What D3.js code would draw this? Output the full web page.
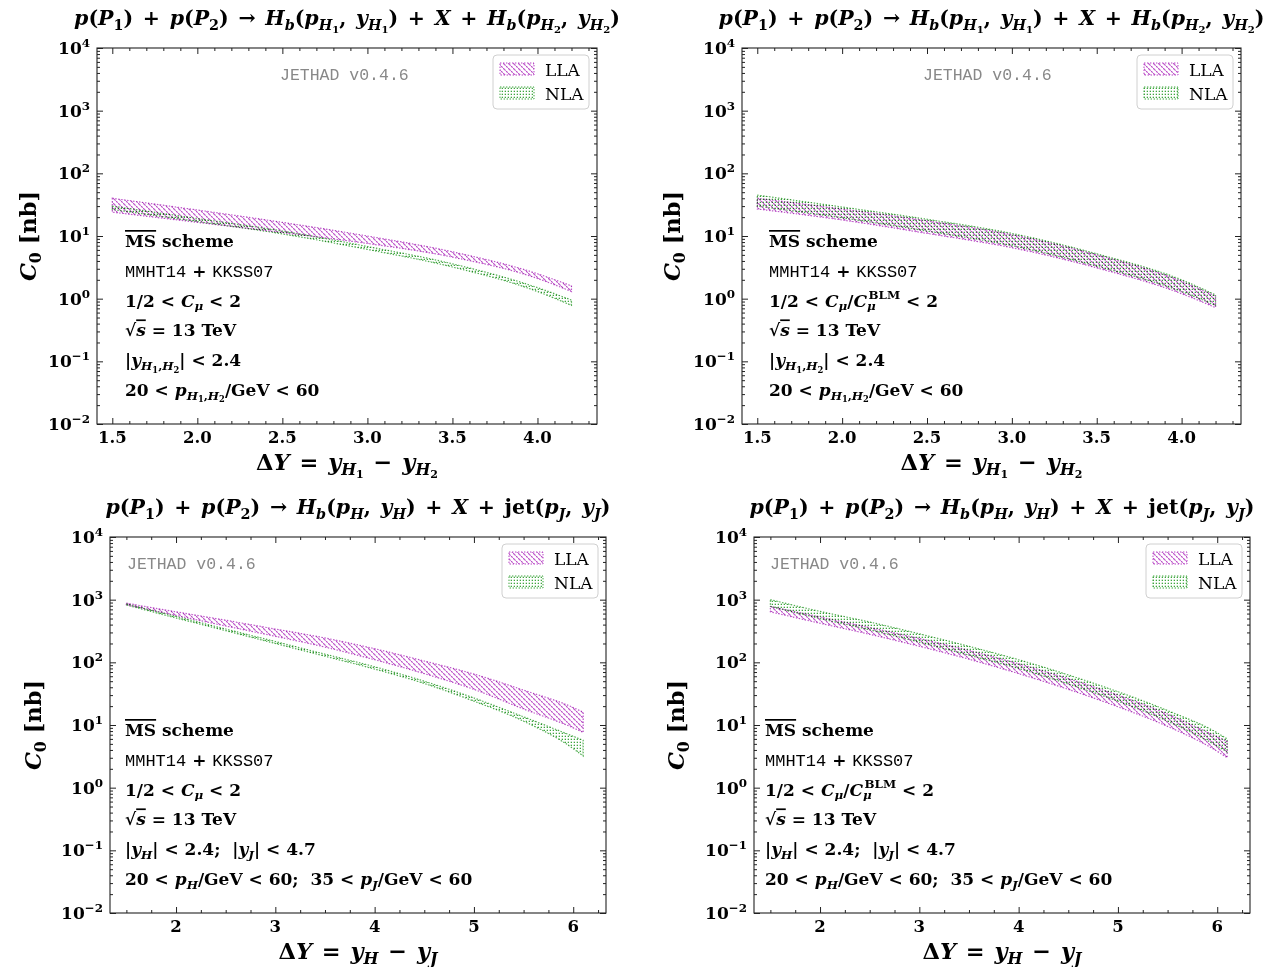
<!DOCTYPE html>
<html>
<head>
<meta charset="utf-8">
<script src="https://cdn.jsdelivr.net/npm/d3@7"></script>
<style>
  html, body { margin: 0; padding: 0; background: #fff; }
  svg { display: block; }
  text { white-space: pre; }
</style>
</head>
<body>
<svg id="fig" width="1274" height="967"></svg>
<script>
// ---- rapidity-interval grids ----
const dyTop = [1.5, 2.0, 2.5, 3.0, 3.5, 4.0, 4.2];
const dyBottom = [1.5, 2.0, 2.5, 3.0, 3.5, 4.0, 4.5, 5.0, 5.5, 6.0, 6.1];

// ---- H_b + H_b, natural scales (nb) ----
const hhLlaUp = [40, 26, 16.5, 10, 5.6, 2.5, 1.6];
const hhLlaLo = [24, 16.5, 11.3, 7.6, 4.6, 2.1, 1.3];
const hhNlaUp = [30, 19, 12, 6.8, 3.6, 1.5, 0.95];
const hhNlaLo = [26.5, 17, 10.8, 6.1, 3.2, 1.3, 0.78];

// ---- H_b + H_b, BLM scales (nb) ----
const hhBlmLlaUp = [40, 27, 17.5, 10.5, 5.0, 1.9, 1.1];
const hhBlmLlaLo = [27, 18, 11, 6.5, 3.1, 1.2, 0.72];
const hhBlmNlaUp = [45, 29, 18.5, 11, 5.2, 2.0, 1.15];
const hhBlmNlaLo = [30, 19.5, 12, 7, 3.3, 1.3, 0.78];

// ---- H_b + jet, natural scales (nb) ----
const hjLlaUp = [880, 640, 470, 340, 245, 165, 105, 65, 36, 19, 16];
const hjLlaLo = [830, 560, 380, 260, 175, 110, 66, 37, 18, 9, 7.6];
const hjNlaUp = [860, 540, 340, 215, 135, 85, 50, 27, 13.5, 6.6, 5.7];
const hjNlaLo = [820, 510, 320, 200, 125, 78, 46, 24, 11.5, 4.2, 3.2];

// ---- H_b + jet, BLM scales (nb) ----
const hjBlmLlaUp = [780, 530, 360, 240, 155, 95, 55, 30, 15, 6.5, 5.5];
const hjBlmLlaLo = [640, 420, 280, 180, 112, 66, 37, 19.5, 9.5, 3.8, 3.0];
const hjBlmNlaUp = [1000, 650, 440, 285, 180, 110, 63, 34, 17, 7.5, 6.0];
const hjBlmNlaLo = [780, 500, 330, 210, 130, 80, 45, 24, 11.5, 4.6, 3.7];

// ---- tick labels ----
const yTickExponents = [-2, -1, 0, 1, 2, 3, 4];
const xTicksTop = [1.5, 2.0, 2.5, 3.0, 3.5, 4.0];
const xTicksBottom = [2, 3, 4, 5, 6];

// ---- texts ----
const legendLabels = ["LLA", "NLA"];
const titleHH = "p(P_1) + p(P_2) → H_b(p_{H_1}, y_{H_1}) + X + H_b(p_{H_2}, y_{H_2})";
const titleHJ = "p(P_1) + p(P_2) → H_b(p_H, y_H) + X + \\rm{jet}(p_J, y_J)";
const xlabelHH = "ΔY = y_{H_1} − y_{H_2}";
const xlabelHJ = "ΔY = y_H − y_J";
const ylabel = "C_0 [\\rm{nb}]";
const codeTag = "JETHAD v0.4.6";
const notesHH = ["\\ov{\\rm{MS}} \\rm{scheme}", "\\tt{MMHT14} + \\tt{KKSS07}", "1/2 < C_μ < 2",
  "\\sqrt{s} = 13 \\rm{TeV}", "|y_{H_1,H_2}| < 2.4", "20 < p_{H_1,H_2}/\\rm{GeV} < 60"];
const notesHHBlm = ["\\ov{\\rm{MS}} \\rm{scheme}", "\\tt{MMHT14} + \\tt{KKSS07}", "1/2 < C_μ/C_μ\\kern{-0.42}^{\\rm{BLM}} < 2",
  "\\sqrt{s} = 13 \\rm{TeV}", "|y_{H_1,H_2}| < 2.4", "20 < p_{H_1,H_2}/\\rm{GeV} < 60"];
const notesHJ = ["\\ov{\\rm{MS}} \\rm{scheme}", "\\tt{MMHT14} + \\tt{KKSS07}", "1/2 < C_μ < 2",
  "\\sqrt{s} = 13 \\rm{TeV}", "|y_H| < 2.4;  |y_J| < 4.7", "20 < p_H/\\rm{GeV} < 60;  35 < p_J/\\rm{GeV} < 60"];
const notesHJBlm = ["\\ov{\\rm{MS}} \\rm{scheme}", "\\tt{MMHT14} + \\tt{KKSS07}", "1/2 < C_μ/C_μ\\kern{-0.42}^{\\rm{BLM}} < 2",
  "\\sqrt{s} = 13 \\rm{TeV}", "|y_H| < 2.4;  |y_J| < 4.7", "20 < p_H/\\rm{GeV} < 60;  35 < p_J/\\rm{GeV} < 60"];

// ---- styling ----
const LLA_COLOR = "#b743c4";
const NLA_COLOR = "#3fa63f";
const MATH_FONT = "'DejaVu Serif', serif";
const MONO_FONT = "'Liberation Mono', 'DejaVu Sans Mono', monospace";

const panels = [
  { frame: [97, 48, 597, 424], xDomain: [1.41, 4.35], xMajor: xTicksTop, xMinorStep: 0.1, fmt: d3.format(".1f"),
    dy: dyTop, lla: [hhLlaLo, hhLlaUp], nla: [hhNlaLo, hhNlaUp], title: titleHH, xlabel: xlabelHH,
    notes: notesHH, noteDx: 28, ylabDx: 69, tagDx: 183 },
  { frame: [742, 48, 1241, 424], xDomain: [1.41, 4.35], xMajor: xTicksTop, xMinorStep: 0.1, fmt: d3.format(".1f"),
    dy: dyTop, lla: [hhBlmLlaLo, hhBlmLlaUp], nla: [hhBlmNlaLo, hhBlmNlaUp], title: titleHH, xlabel: xlabelHH,
    notes: notesHHBlm, noteDx: 27, ylabDx: 70, tagDx: 181 },
  { frame: [110, 537, 606, 913], xDomain: [1.335, 6.33], xMajor: xTicksBottom, xMinorStep: 0.25, fmt: d3.format("d"),
    dy: dyBottom, lla: [hjLlaLo, hjLlaUp], nla: [hjNlaLo, hjNlaUp], title: titleHJ, xlabel: xlabelHJ,
    notes: notesHJ, noteDx: 15, ylabDx: 77, tagDx: 17 },
  { frame: [754, 537, 1250, 913], xDomain: [1.335, 6.33], xMajor: xTicksBottom, xMinorStep: 0.25, fmt: d3.format("d"),
    dy: dyBottom, lla: [hjBlmLlaLo, hjBlmLlaUp], nla: [hjBlmNlaLo, hjBlmNlaUp], title: titleHJ, xlabel: xlabelHJ,
    notes: notesHJBlm, noteDx: 11, ylabDx: 78, tagDx: 16 }
];

const svg = d3.select("#fig");
svg.append("rect").attr("width", 1274).attr("height", 967).attr("fill", "#fff");

// ---- hatch patterns ----
const defs = svg.append("defs");
const pLLA = defs.append("pattern").attr("id", "hatchLLA").attr("patternUnits", "userSpaceOnUse")
  .attr("width", 5).attr("height", 5);
pLLA.append("path").attr("d", "M-1,-1 L6,6 M-1,4 L1,6 M4,-1 L6,1")
  .attr("stroke", LLA_COLOR).attr("stroke-width", 1.15).attr("stroke-dasharray", "2.2 0.8");
const pNLA = defs.append("pattern").attr("id", "hatchNLA").attr("patternUnits", "userSpaceOnUse")
  .attr("width", 3).attr("height", 3);
pNLA.append("rect").attr("x", 0.7).attr("y", 0.7).attr("width", 1.3).attr("height", 1.3).attr("fill", NLA_COLOR);

// ---- tiny TeX-like text layout ----
function readArg(s, i) {
  if (s[i] === "{") {
    let depth = 0;
    for (let j = i; j < s.length; j++) {
      if (s[j] === "{") depth++;
      else if (s[j] === "}") { depth--; if (depth === 0) return [s.slice(i + 1, j), j + 1]; }
    }
    return [s.slice(i + 1), s.length];
  }
  return [s[i], i + 1];
}
function parseMath(src, size, shift, style, out) {
  let i = 0;
  while (i < src.length) {
    const c = src[i];
    if (c === "_" || c === "^") {
      const [arg, j] = readArg(src, i + 1); i = j;
      const sub = c === "_";
      parseMath(arg, size * 0.7, shift + (sub ? 0.22 * size : -0.42 * size), style, out);
    } else if (c === "\\") {
      const m = /^\\([a-z]+)/.exec(src.slice(i));
      i += m[0].length;
      const [arg, j] = readArg(src, i); i = j;
      if (m[1] === "kern") out.push({ kern: +arg * size });
      else if (m[1] === "sqrt") {
        out.push({ ch: "√", size, shift, style: { ...style, rm: true } });
        parseMath(arg, size, shift, { ...style, ov: true }, out);
      } else parseMath(arg, size, shift, { ...style, [m[1]]: true }, out);
    } else { out.push({ ch: c, size, shift, style }); i++; }
  }
}
function mathText(g, src, o) {
  const toks = [];
  parseMath(src, o.size, 0, {}, toks);
  const runs = [];
  let kern = 0;
  for (const t of toks) {
    if (t.kern !== undefined) { kern += t.kern; continue; }
    const it = !t.style.rm && !t.style.tt && /[A-Za-zμ]/.test(t.ch);
    const key = [t.size, t.shift, it, !!t.style.tt, !!t.style.ov].join("|");
    const last = runs[runs.length - 1];
    if (last && last.key === key && !kern) last.text += t.ch;
    else {
      runs.push({ key, text: t.ch, size: t.size, shift: t.shift, it, tt: !!t.style.tt, ov: !!t.style.ov, dx: kern });
      kern = 0;
    }
  }
  const text = g.append("text")
    .attr("x", o.x).attr("y", o.y)
    .attr("text-anchor", o.anchor || "start")
    .attr("font-family", o.family || MATH_FONT)
    .attr("font-weight", o.weight || "bold")
    .attr("fill", o.fill || "#000");
  if (o.wordSpacing) text.attr("word-spacing", o.wordSpacing);
  if (o.rotate) text.attr("transform", `rotate(${o.rotate},${o.x},${o.y})`);
  let prev = 0;
  for (const r of runs) {
    const ts = text.append("tspan").text(r.text)
      .attr("font-size", r.size)
      .attr("dy", (r.shift - prev).toFixed(2));
    if (r.dx) ts.attr("dx", r.dx.toFixed(2));
    if (r.it) ts.attr("font-style", "italic");
    if (r.tt) ts.attr("font-family", MONO_FONT).attr("font-weight", "normal");
    if (r.ov) ts.style("text-decoration", "overline");
    prev = r.shift;
  }
  return text;
}

// ---- panels ----
panels.forEach(p => {
  const [x0, y0, x1, y1] = p.frame;
  const g = svg.append("g");
  const x = d3.scaleLinear().domain(p.xDomain).range([x0, x1]);
  const y = d3.scaleLog().domain([1e-2, 1e4]).range([y1, y0]);

  const clipId = "clip" + x0 + "_" + y0;
  defs.append("clipPath").attr("id", clipId).append("rect")
    .attr("x", x0).attr("y", y0).attr("width", x1 - x0).attr("height", y1 - y0);

  // uncertainty bands
  const area = (lo, hi) => d3.area()
    .x((d, i) => x(p.dy[i]))
    .y0((d, i) => y(lo[i]))
    .y1((d, i) => y(hi[i]))
    .curve(d3.curveMonotoneX)(p.dy);
  const bands = g.append("g").attr("clip-path", `url(#${clipId})`);
  [[p.lla, "hatchLLA", LLA_COLOR], [p.nla, "hatchNLA", NLA_COLOR]].forEach(([b, pat, col]) => {
    const dpath = area(b[0], b[1]);
    bands.append("path").attr("d", dpath).attr("fill", `url(#${pat})`)
      .style("mix-blend-mode", "multiply");
    bands.append("path").attr("d", dpath).attr("fill", "none")
      .attr("stroke", col).attr("stroke-width", 1.2).attr("stroke-dasharray", "1.4 1.6")
      .attr("opacity", 0.9).style("mix-blend-mode", "multiply");
  });

  // ticks (inward, all four sides)
  const yMajor = yTickExponents.map(e => Math.pow(10, e));
  const yMinor = [];
  yTickExponents.slice(0, -1).forEach(e => { for (let m = 2; m <= 9; m++) yMinor.push(m * Math.pow(10, e)); });
  const [dlo, dhi] = p.xDomain;
  const xMinor = d3.range(Math.ceil(dlo / p.xMinorStep), Math.floor(dhi / p.xMinorStep) + 1)
    .map(k => +(k * p.xMinorStep).toFixed(3))
    .filter(v => !p.xMajor.some(m => Math.abs(m - v) < 1e-6));

  const tickG = g.append("g").attr("stroke-width", 1);
  const addAxis = (axis, tx, ty) => {
    const a = tickG.append("g").attr("transform", `translate(${tx},${ty})`).call(axis);
    a.select(".domain").remove();
    a.selectAll("line").attr("stroke", "#222");
  };
  addAxis(d3.axisBottom(x).tickValues(p.xMajor).tickSize(-6).tickFormat(""), 0, y1);
  addAxis(d3.axisBottom(x).tickValues(xMinor).tickSize(-3).tickFormat(""), 0, y1);
  addAxis(d3.axisTop(x).tickValues(p.xMajor).tickSize(-6).tickFormat(""), 0, y0);
  addAxis(d3.axisTop(x).tickValues(xMinor).tickSize(-3).tickFormat(""), 0, y0);
  addAxis(d3.axisLeft(y).tickValues(yMajor).tickSize(-6).tickFormat(""), x0, 0);
  addAxis(d3.axisLeft(y).tickValues(yMinor).tickSize(-3).tickFormat(""), x0, 0);
  addAxis(d3.axisRight(y).tickValues(yMajor).tickSize(-6).tickFormat(""), x1, 0);
  addAxis(d3.axisRight(y).tickValues(yMinor).tickSize(-3).tickFormat(""), x1, 0);

  g.append("rect").attr("x", x0).attr("y", y0).attr("width", x1 - x0).attr("height", y1 - y0)
    .attr("fill", "none").attr("stroke", "#222").attr("stroke-width", 1.1);

  // tick labels
  p.xMajor.forEach(v => mathText(g, p.fmt(v), { x: x(v), y: y1 + 19, size: 16.5, anchor: "middle" }));
  yTickExponents.forEach(e => mathText(g, `10^{${e < 0 ? "−" + (-e) : e}}`,
    { x: x0 - 7, y: y(Math.pow(10, e)) + 6, size: 17, anchor: "end" }));

  // titles and axis labels
  mathText(g, p.title, { x: (x0 + x1) / 2, y: y0 - 23, size: 20.5, anchor: "middle", wordSpacing: 2.5 });
  mathText(g, p.xlabel, { x: (x0 + x1) / 2, y: y1 + 46, size: 22.5, anchor: "middle", wordSpacing: 2 });
  mathText(g, ylabel, { x: x0 - p.ylabDx + 8, y: (y0 + y1) / 2, size: 22.5, anchor: "middle", rotate: -90 });

  // code tag
  g.append("text").attr("x", x0 + p.tagDx).attr("y", y0 + 32)
    .attr("font-family", MONO_FONT).attr("font-size", 16.5).attr("fill", "#888").text(codeTag);

  // notes block
  p.notes.forEach((n, i) => mathText(g, n, { x: x0 + p.noteDx, y: y0 + 199 + i * 29.8, size: 17 }));

  // legend
  const lx = x1 - 104, ly = y0 + 7;
  const lg = g.append("g");
  lg.append("rect").attr("x", lx).attr("y", ly).attr("width", 96).attr("height", 54).attr("rx", 4)
    .attr("fill", "#fff").attr("fill-opacity", 0.8).attr("stroke", "#d0d0d0").attr("stroke-width", 1);
  [["hatchLLA", LLA_COLOR], ["hatchNLA", NLA_COLOR]].forEach(([pat, col], i) => {
    const sy = ly + 8 + i * 24;
    lg.append("rect").attr("x", lx + 7).attr("y", sy).attr("width", 34).attr("height", 12)
      .attr("fill", `url(#${pat})`);
    lg.append("rect").attr("x", lx + 7).attr("y", sy).attr("width", 34).attr("height", 12)
      .attr("fill", "none").attr("stroke", col).attr("stroke-width", 1).attr("stroke-dasharray", "1.4 1.6");
    lg.append("text").attr("x", lx + 52).attr("y", sy + 13).attr("font-family", MATH_FONT)
      .attr("font-size", 17).attr("fill", "#000").text(legendLabels[i]);
  });
});
</script>
</body>
</html>
